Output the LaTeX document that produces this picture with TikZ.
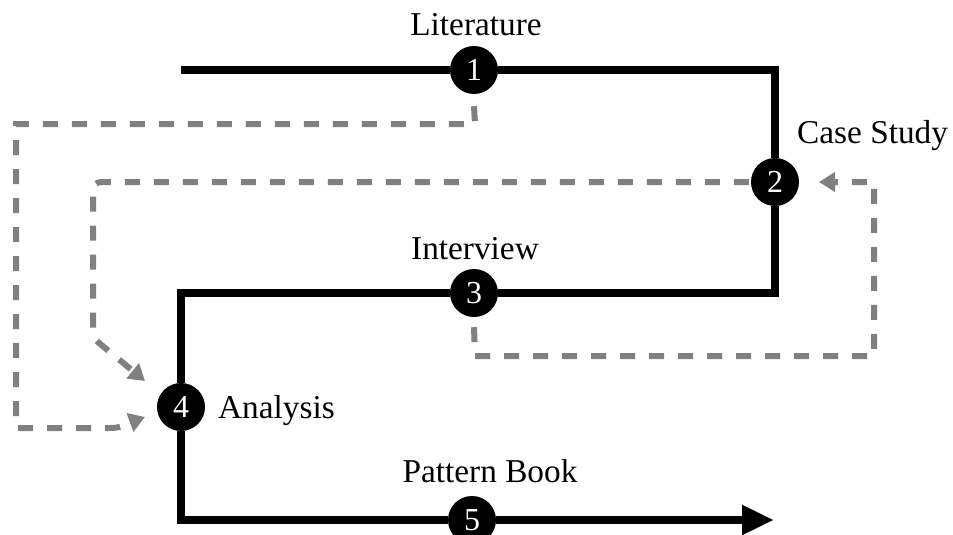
\documentclass[tikz,border=0pt]{standalone}
\usepackage{fontspec}
\setmainfont{Liberation Serif}
\usetikzlibrary{arrows.meta}
\begin{document}
\begin{tikzpicture}[x=1pt,y=-1pt,
  stage/.style={circle,fill=black,draw=none,minimum size=48pt,inner sep=0pt,
    text=white,font=\fontsize{32}{32}\selectfont},
  label/.style={font=\fontsize{33.3}{36}\selectfont,inner sep=0pt},
  mainline/.style={line width=8pt,black},
  feedback/.style={line width=6pt,color=black!50,dash pattern=on 15pt off 14pt,
    -{Triangle[length=16pt,width=19pt]}},
]
\useasboundingbox (0,0) rectangle (953,535);

% stages
\node[stage] (n1) at (474,70) {1};
\node[stage] (n2) at (775,182) {2};
\node[stage] (n3) at (474,293) {3};
\node[stage] (n4) at (181,407) {4};
\node[stage] (n5) at (472,520) {5};

% stage labels
\node[label,anchor=base] (l1) at (476,36) {Literature};
\node[label,anchor=base west] (l2) at (797,143) {Case Study};
\node[label,anchor=base] (l3) at (475,259) {Interview};
\node[label,anchor=base west] (l4) at (218,418) {Analysis};
\node[label,anchor=base] (l5) at (490,482) {Pattern Book};

% main process line
\coordinate (start) at (181,70);
\coordinate (finish) at (774,520);
\draw[mainline] (start) -- (n1);
\draw[mainline] (n1) -| (n2);
\draw[mainline] (n2) |- (n3);
\draw[mainline] (n3) -| (n4);
\draw[mainline] (n4) |- (n5);
\draw[mainline,-{Triangle[length=32pt,width=28pt]}] (n5) -- (finish);

% feedback loops
\coordinate (a1) at (145,417);
\coordinate (a2) at (145,381);
\coordinate (a3) at (819,182);
\draw[feedback] ([yshift=-12pt]n1.south) -- (475,124) -- (16,124) -- (16,428) -- (110,428)
  to[out=0,in=200] (a1);
\draw[feedback,rounded corners=8pt] ([xshift=-2pt]n2.west) -- (93,182) -- (93,338) -- (a2);
\draw[feedback] ([yshift=-10pt]n3.south) -- (475,356) -- (874,356) -- (874,182) -- (a3);
\end{tikzpicture}
\end{document}
